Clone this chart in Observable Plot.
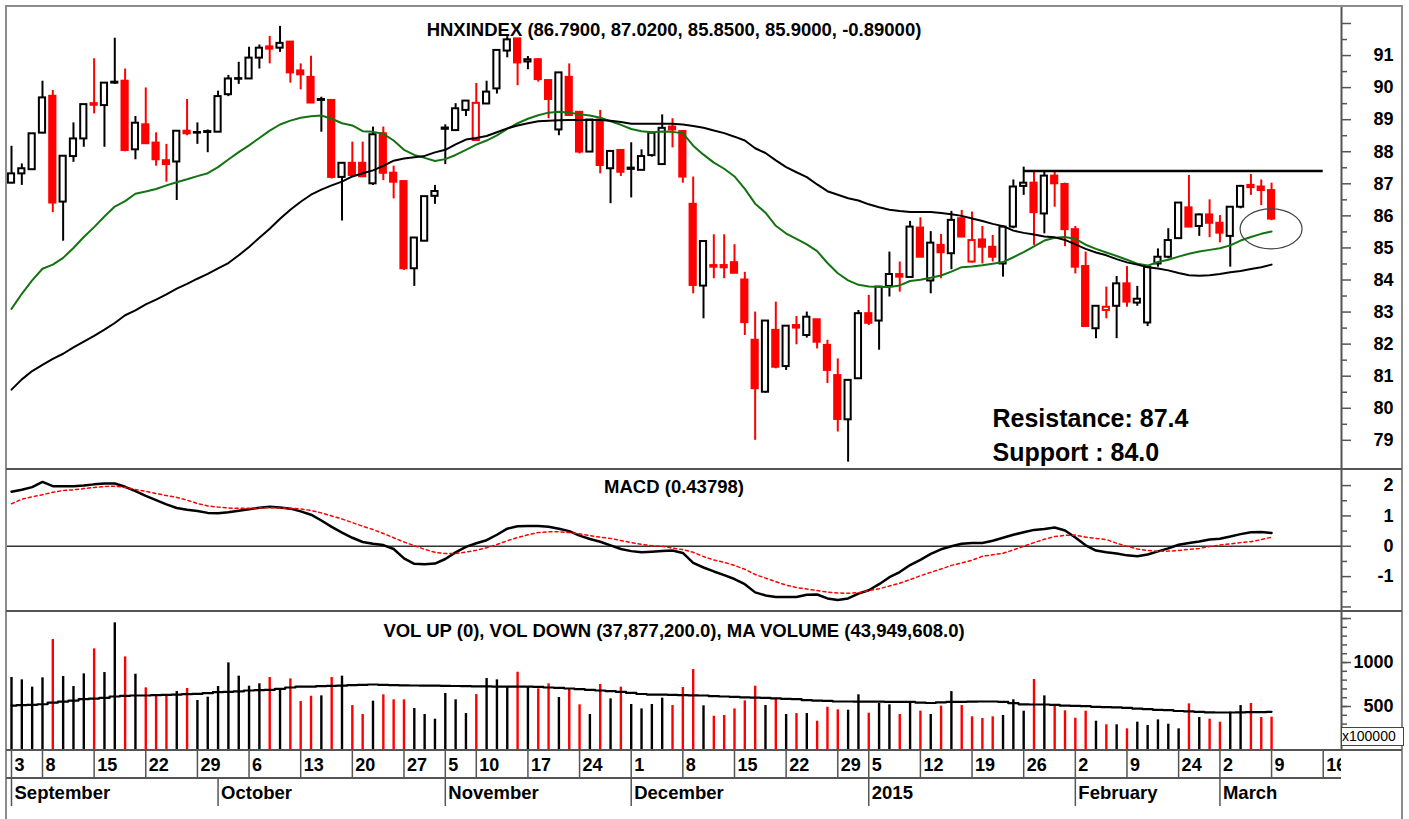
<!DOCTYPE html>
<html><head><meta charset="utf-8">
<script src="https://cdn.jsdelivr.net/npm/d3@7"></script>
<script src="https://cdn.jsdelivr.net/npm/@observablehq/plot@0.6"></script>
<style>
html,body{margin:0;padding:0;background:#fff;}
#wrap{position:relative;width:1409px;height:819px;overflow:hidden;font-family:"Liberation Sans",Arial,sans-serif;}
.panel{position:absolute;left:0;}
.panel svg{max-width:none !important;}
.ln{position:absolute;}
#xbox{position:absolute;left:1341px;top:727px;width:61px;height:17px;border:1px solid #444;background:#fff;font-size:14px;line-height:17px;overflow:hidden;white-space:nowrap;}
</style></head>
<body><div id="wrap">
<div class="panel" id="price" style="top:0"></div>
<div class="panel" id="macd" style="top:469px"></div>
<div class="panel" id="vol" style="top:611px"></div>
<div class="panel" id="days" style="top:750px;width:1341px;overflow:hidden"></div>
<div class="panel" id="months" style="top:778px"></div>
<div class="ln" style="left:5px;top:5px;width:1398px;height:2px;background:#8c8c8c"></div>
<div class="ln" style="left:5px;top:5px;width:2px;height:814px;background:#8c8c8c"></div>
<div class="ln" style="left:1401px;top:5px;width:2px;height:814px;background:#8c8c8c"></div>
<div class="ln" style="left:6px;top:468px;width:1396px;height:2px;background:#555"></div>
<div class="ln" style="left:6px;top:610px;width:1396px;height:2px;background:#555"></div>
<div class="ln" style="left:6px;top:749px;width:1396px;height:2px;background:#555"></div>
<div class="ln" style="left:6px;top:777px;width:1335px;height:2px;background:#555"></div>
<div id="xbox">x100000</div>
</div>
<script>
// ---------- data ----------
const openP = [87.02,87.31,87.44,88.58,89.73,86.43,87.85,88.40,89.50,89.44,
90.14,90.20,88.06,88.84,88.27,87.72,87.68,88.64,88.58,88.60,
88.61,89.78,90.26,90.27,90.92,91.27,91.23,91.42,90.52,90.32,
89.60,89.60,87.20,87.64,87.64,87.00,88.56,87.33,87.07,84.35,
85.21,86.61,88.70,88.66,89.29,88.35,89.49,89.96,91.14,91.52,
90.80,90.87,90.22,88.68,90.32,89.23,87.99,88.99,87.47,88.04,
87.45,87.42,87.88,87.60,88.77,88.63,86.36,83.81,84.45,84.45,
84.54,84.00,82.12,80.50,82.43,81.30,82.58,82.27,82.76,81.96,
81.02,79.64,80.92,82.95,82.72,83.80,84.17,84.08,85.62,83.97,
85.08,84.82,85.91,84.56,85.25,85.02,84.50,85.65,86.92,87.02,
86.06,87.24,86.98,85.57,84.42,82.48,83.05,83.18,83.88,83.28,
82.66,84.50,84.71,85.29,86.25,85.67,86.03,85.77,85.36,86.27,
86.95,86.90,86.79];
const highP = [88.17,87.62,88.56,90.20,89.91,87.86,88.90,89.47,90.90,90.14,
91.54,90.58,89.10,89.99,88.59,88.23,88.64,89.63,88.90,88.68,
89.89,90.38,90.79,91.26,91.33,91.60,91.91,91.42,90.74,90.98,
89.70,89.60,87.64,88.30,88.30,88.77,88.77,87.55,87.07,85.31,
86.60,86.95,88.84,89.50,89.58,90.13,90.20,91.16,91.59,91.52,
90.97,90.90,90.22,90.46,90.74,89.23,88.99,89.29,88.01,88.04,
88.28,88.06,88.58,89.15,89.03,88.66,87.21,85.20,85.41,85.41,
85.10,84.24,83.00,82.72,83.31,82.56,82.86,83.00,82.76,82.12,
81.54,80.87,83.05,83.52,83.80,84.87,84.56,85.83,85.94,85.51,
85.42,86.14,86.17,86.12,85.67,85.39,85.65,87.12,87.52,87.36,
87.36,87.36,87.02,85.67,84.87,83.18,83.78,84.11,84.42,83.80,
84.40,84.97,85.60,86.40,87.26,86.06,86.50,86.01,86.27,86.95,
87.29,87.12,87.02];
const lowP = [87.00,86.95,87.42,88.56,86.10,85.21,87.67,88.14,89.18,88.14,
90.10,88.00,87.75,88.23,87.55,87.05,86.48,88.50,88.23,87.97,
88.60,89.72,90.10,90.27,90.58,90.74,91.10,90.14,89.93,89.52,
88.61,87.15,85.84,87.26,87.20,86.95,87.10,86.53,84.30,83.80,
85.21,86.36,87.60,88.66,89.10,88.35,89.47,89.80,90.93,90.06,
90.56,90.17,89.03,88.50,89.13,87.93,87.99,87.31,86.38,87.23,
86.56,87.42,87.83,87.60,88.12,87.02,83.57,82.79,84.04,84.04,
84.21,82.27,79.00,80.47,81.23,81.18,81.98,82.19,81.85,80.77,
79.26,78.32,80.92,82.58,81.81,83.47,83.62,84.08,84.71,83.57,
84.04,84.32,85.32,84.53,84.50,84.56,84.09,85.60,86.64,85.08,
85.44,86.27,85.04,84.19,82.53,82.17,82.79,82.17,83.15,83.18,
82.55,84.40,84.66,85.29,85.65,85.36,85.32,85.16,84.40,86.22,
86.64,86.32,85.85];
const closeP = [87.31,87.47,88.56,89.68,86.40,87.86,88.40,89.47,89.45,90.14,
90.17,88.04,88.89,88.25,87.75,87.60,88.64,88.56,88.60,88.63,
89.72,90.27,90.28,90.92,91.23,91.20,91.38,90.46,90.40,89.52,
89.63,87.20,87.64,87.26,87.22,88.53,87.33,87.05,84.35,85.31,
86.60,86.76,88.74,89.34,89.58,89.51,89.86,91.16,91.49,90.77,
90.87,90.25,89.63,90.46,89.13,87.99,88.99,87.57,88.01,87.36,
87.49,87.85,88.58,88.73,88.68,87.21,83.83,85.20,84.40,84.38,
84.21,82.67,80.61,82.72,81.28,82.56,82.50,82.84,82.06,81.18,
79.65,80.87,82.95,82.65,83.78,84.17,84.09,85.65,84.71,85.15,
84.85,85.86,85.34,85.23,85.02,84.71,85.65,86.90,87.02,86.10,
87.24,87.00,85.57,84.40,82.55,83.18,83.15,83.88,83.31,83.40,
84.40,84.71,85.23,86.40,85.65,86.03,85.77,85.46,86.27,86.92,
86.88,86.79,85.90];
const maGreen = [83.10,83.57,83.99,84.35,84.48,84.69,85.00,85.34,85.65,85.98,
86.29,86.46,86.69,86.76,86.84,86.95,87.05,87.14,87.24,87.33,
87.52,87.76,87.99,88.20,88.43,88.66,88.85,88.97,89.06,89.11,
89.13,89.03,88.89,88.82,88.64,88.62,88.56,88.35,88.06,87.90,
87.81,87.71,87.77,87.90,88.06,88.22,88.35,88.51,88.71,88.89,
89.03,89.14,89.22,89.25,89.22,89.17,89.13,89.06,88.95,88.84,
88.71,88.64,88.61,88.63,88.62,88.58,88.19,87.91,87.66,87.47,
87.23,86.84,86.38,86.10,85.69,85.45,85.28,85.11,84.90,84.53,
84.21,83.99,83.85,83.80,83.78,83.78,83.83,83.97,84.01,84.07,
84.14,84.26,84.40,84.42,84.46,84.51,84.56,84.71,84.87,85.05,
85.23,85.32,85.34,85.28,85.10,84.97,84.86,84.75,84.63,84.51,
84.45,84.56,84.63,84.73,84.82,84.89,84.94,84.99,85.08,85.23,
85.34,85.44,85.51];
const maBlack = [80.58,80.90,81.16,81.35,81.54,81.70,81.90,82.08,82.26,82.45,
82.66,82.90,83.05,83.24,83.39,83.55,83.73,83.88,84.04,84.19,
84.36,84.53,84.77,85.03,85.32,85.60,85.91,86.19,86.44,86.66,
86.82,86.95,87.07,87.23,87.33,87.42,87.56,87.72,87.79,87.83,
87.87,87.98,88.06,88.23,88.38,88.43,88.49,88.61,88.73,88.82,
88.89,88.95,88.97,88.98,88.99,88.99,88.99,88.99,88.97,88.93,
88.87,88.87,88.87,88.87,88.87,88.85,88.80,88.75,88.66,88.58,
88.47,88.35,88.11,87.96,87.73,87.52,87.36,87.21,86.98,86.77,
86.66,86.55,86.48,86.36,86.27,86.19,86.15,86.12,86.12,86.12,
86.09,86.05,86.00,85.92,85.84,85.75,85.68,85.54,85.47,85.42,
85.36,85.33,85.25,85.11,84.97,84.86,84.77,84.65,84.55,84.48,
84.40,84.36,84.30,84.22,84.15,84.13,84.15,84.19,84.24,84.28,
84.34,84.40,84.48];
const macdLine = [1.80,1.86,1.95,2.12,1.98,1.98,1.98,2.00,2.04,2.07,
2.07,1.96,1.82,1.66,1.52,1.38,1.26,1.20,1.16,1.10,
1.09,1.12,1.17,1.22,1.27,1.30,1.28,1.24,1.15,1.04,
0.85,0.64,0.45,0.28,0.14,0.08,0.04,-0.09,-0.40,-0.58,
-0.59,-0.57,-0.42,-0.20,-0.02,0.10,0.20,0.38,0.58,0.66,
0.67,0.67,0.64,0.58,0.50,0.35,0.24,0.15,0.03,-0.09,
-0.16,-0.20,-0.18,-0.16,-0.14,-0.22,-0.55,-0.70,-0.83,-0.95,
-1.08,-1.25,-1.52,-1.62,-1.67,-1.67,-1.67,-1.60,-1.59,-1.72,
-1.77,-1.72,-1.56,-1.45,-1.25,-1.02,-0.85,-0.62,-0.45,-0.25,
-0.10,0.00,0.08,0.11,0.11,0.18,0.28,0.38,0.46,0.54,
0.57,0.62,0.52,0.29,0.03,-0.14,-0.20,-0.24,-0.30,-0.33,
-0.27,-0.17,-0.07,0.05,0.11,0.16,0.22,0.25,0.32,0.40,
0.46,0.47,0.44];
const signalLine = [1.40,1.55,1.63,1.70,1.78,1.84,1.86,1.90,1.94,1.97,
1.98,1.94,1.87,1.81,1.74,1.67,1.61,1.52,1.41,1.33,
1.29,1.26,1.25,1.25,1.26,1.27,1.26,1.25,1.23,1.18,
1.10,1.00,0.90,0.78,0.66,0.55,0.42,0.28,0.14,0.02,
-0.10,-0.20,-0.24,-0.24,-0.19,-0.13,-0.05,0.06,0.18,0.29,
0.38,0.45,0.48,0.48,0.45,0.41,0.35,0.30,0.26,0.19,
0.12,0.06,0.02,0.00,-0.06,-0.11,-0.20,-0.34,-0.45,-0.53,
-0.63,-0.76,-0.93,-1.05,-1.17,-1.28,-1.36,-1.41,-1.46,-1.51,
-1.54,-1.55,-1.53,-1.46,-1.40,-1.31,-1.22,-1.10,-0.97,-0.86,
-0.75,-0.63,-0.55,-0.46,-0.33,-0.28,-0.23,-0.12,0.00,0.12,
0.23,0.32,0.36,0.37,0.30,0.26,0.22,0.10,0.00,-0.09,
-0.14,-0.17,-0.16,-0.14,-0.10,-0.07,-0.01,0.04,0.08,0.12,
0.15,0.22,0.30];
const volume = [830,803,720,826,1261,841,727,871,1155,886,1451,1064,867,712,625,625,670,705,568,606,727,996,845,731,758,830,682,814,557,617,621,
830,845,511,409,561,633,576,576,477,409,356,648,576,420,636,818,803,720,890,727,701,758,602,701,519,409,750,587,720,523,473,523,
595,511,716,920,508,390,398,473,564,731,511,595,409,420,420,333,492,462,458,633,424,534,519,409,557,447,409,504,670,511,383,
364,383,398,576,447,807,621,508,451,367,447,333,292,292,246,322,284,348,299,246,530,375,356,322,436,511,534,375,379];
const volumeMA = [511,515,518,526,545,556,568,583,590,598,614,621,625,625,629,633,636,640,644,652,663,667,671,682,686,690,701,716,725,727,731,
735,737,742,746,750,746,744,741,739,737,737,735,733,731,729,729,727,727,727,725,723,716,712,705,697,690,682,674,667,655,642,636,
636,633,629,627,625,618,614,610,604,602,598,593,587,583,572,568,564,557,557,555,555,555,553,553,553,545,540,548,553,553,555,
557,557,553,538,525,523,523,519,509,508,504,496,492,490,485,477,470,462,458,449,445,440,434,432,432,434,436,436,440];
const dayTickIdx = [0,3,8,13,18,23,28,33,38,42,45,50,55,60,65,70,75,80,83,88,93,98,103,108,113,117,122,127];
const dayTickLabels = ["3","8","15","22","29","6","13","20","27","5","10","17","24","1","8","15","22","29","5","12","19","26","2","9","24","2","9","16"];
const monthTickIdx = [0,20,42,60,83,103,117];
const monthLabels = ["September","October","November","December","2015","February","March"];
const priceTicks = [79,80,81,82,83,84,85,86,87,88,89,90,91,92];
const macdTicks = [-2,-1,0,1,2];
const volTicks = [500,1000,1500];
const resistance = 87.4, support = 84.0;
const resistanceFrom = 98, resistanceTo = 127;
const highlightIdx = 122, highlightPrice = 85.58;
const priceTitle = "HNXINDEX (86.7900, 87.0200, 85.8500, 85.9000, -0.89000)";
const macdTitle = "MACD (0.43798)";
const volTitle = "VOL UP (0), VOL DOWN (37,877,200.0), MA VOLUME (43,949,608.0)";

// ---------- build ----------
const rows = closeP.map((c, i) => {
  const o = openP[i];
  const prev = i > 0 ? closeP[i - 1] : c;
  const color = c < prev ? "#ff0000" : "#000000";
  return {i, o, h: highP[i], l: lowP[i], c, lo: Math.min(o, c), hi: Math.max(o, c),
    color, fill: c >= o ? "#ffffff" : color,
    ma1: maGreen[i], ma2: maBlack[i], macd: macdLine[i], sig: signalLine[i],
    vol: volume[i], vma: volumeMA[i]};
});
const FONT = "'Liberation Sans', Arial, Helvetica, sans-serif";
const xDom = [-0.484, 128.77];
const base = {
  width: 1409, marginLeft: 6, marginRight: 68, marginTop: 0, marginBottom: 0,
  x: {domain: xDom, axis: null},
  color: {type: "identity"},
  style: {fontFamily: FONT, fontWeight: "bold", fontSize: "18px", color: "#000", background: "transparent", overflow: "visible", maxWidth: "none"}
};
const axisLine = () => Plot.ruleX([xDom[1]], {stroke: "#555", strokeWidth: 2});
const rightAxis = (ticks, size, fmt) => Plot.axisY({anchor: "right", ticks, tickSize: size, tickPadding: 52 - size,
  textAnchor: "end", label: null, stroke: "#555", strokeWidth: 1.5, tickFormat: fmt});

const ellipseMark = (index, scales) => {
  const e = document.createElementNS("http://www.w3.org/2000/svg", "ellipse");
  e.setAttribute("cx", scales.x(highlightIdx));
  e.setAttribute("cy", scales.y(highlightPrice));
  e.setAttribute("rx", 31); e.setAttribute("ry", 20);
  e.setAttribute("fill", "none"); e.setAttribute("stroke", "#444"); e.setAttribute("stroke-width", 1.2);
  return e;
};

const priceChart = Plot.plot({...base, height: 469, marginTop: 6,
  y: {domain: [78.09, 92.53]},
  marks: [
    Plot.ruleX(rows, {x: "i", y1: "l", y2: "h", stroke: "color", strokeWidth: 2}),
    Plot.rect(rows, {x1: d => d.i - 0.3, x2: d => d.i + 0.3, y1: "lo", y2: "hi", fill: "fill", stroke: "color", strokeWidth: 2}),
    Plot.line(rows, {x: "i", y: "ma1", stroke: "#137313", strokeWidth: 2}),
    Plot.line(rows, {x: "i", y: "ma2", stroke: "#000", strokeWidth: 2}),
    Plot.ruleY([{y: resistance, x1: resistanceFrom, x2: resistanceTo}], {y: "y", x1: "x1", x2: "x2", stroke: "#000", strokeWidth: 2.5}),
    ellipseMark,
    axisLine(),
    rightAxis([79.5,80.5,81.5,82.5,83.5,84.5,85.5,86.5,87.5,88.5,89.5,90.5,91.5], 5, () => ""),
    rightAxis(priceTicks, 9, d => d > 91 ? "" : String(d)),
    Plot.text([priceTitle], {text: d => d, frameAnchor: "top", dy: 24, lineAnchor: "middle", fontSize: 18.5}),
    Plot.text(["Resistance: " + resistance.toFixed(1)], {text: d => d, frameAnchor: "bottom-left", dx: 986, dy: -51, textAnchor: "start", lineAnchor: "middle", fontSize: 25}),
    Plot.text(["Support : " + support.toFixed(1)], {text: d => d, frameAnchor: "bottom-left", dx: 986, dy: -17, textAnchor: "start", lineAnchor: "middle", fontSize: 25})
  ]});
document.getElementById("price").append(priceChart);

const macdChart = Plot.plot({...base, height: 142,
  y: {domain: [-2.15, 2.53]},
  marks: [
    Plot.ruleY([0], {stroke: "#333", strokeWidth: 1.5}),
    Plot.line(rows, {x: "i", y: "macd", stroke: "#000", strokeWidth: 2.5}),
    Plot.line(rows, {x: "i", y: "sig", stroke: "#ff0000", strokeWidth: 1.5, strokeDasharray: "3,3"}),
    axisLine(),
    rightAxis([-1.5,-0.5,0.5,1.5], 5, () => ""),
    rightAxis(macdTicks, 9, d => d < -1 ? "" : String(d)),
    Plot.text([macdTitle], {text: d => d, frameAnchor: "top", dy: 18, lineAnchor: "middle", fontSize: 18.5})
  ]});
document.getElementById("macd").append(macdChart);

const volChart = Plot.plot({...base, height: 139,
  y: {domain: [0, 1580]},
  marks: [
    Plot.ruleX(rows, {x: "i", y: "vol", stroke: "color", strokeWidth: 2.4}),
    Plot.line(rows, {x: "i", y: "vma", stroke: "#000", strokeWidth: 2.2, curve: "step"}),
    axisLine(),
    rightAxis(d3.range(100, 1600, 100), 5, () => ""),
    rightAxis(volTicks, 9, d => d > 1000 ? "" : String(d)),
    Plot.text([volTitle], {text: d => d, frameAnchor: "top", dy: 20, lineAnchor: "middle", fontSize: 18.5})
  ]});
document.getElementById("vol").append(volChart);

const dayChart = Plot.plot({...base, height: 28,
  marks: [
    Plot.ruleX(dayTickIdx, {x: d => d, stroke: "#555", strokeWidth: 1.5}),
    Plot.text(dayTickIdx, {x: d => d, text: (d, k) => dayTickLabels[k], textAnchor: "start", dx: 3, dy: 1, fontSize: 18})
  ]});
document.getElementById("days").append(dayChart);

const monthChart = Plot.plot({...base, height: 28,
  marks: [
    Plot.ruleX(monthTickIdx, {x: d => d, stroke: "#555", strokeWidth: 1.5}),
    Plot.text(monthTickIdx, {x: d => d, text: (d, k) => monthLabels[k], textAnchor: "start", dx: 3, dy: 1, fontSize: 18.5})
  ]});
document.getElementById("months").append(monthChart);
</script>
</body></html>
